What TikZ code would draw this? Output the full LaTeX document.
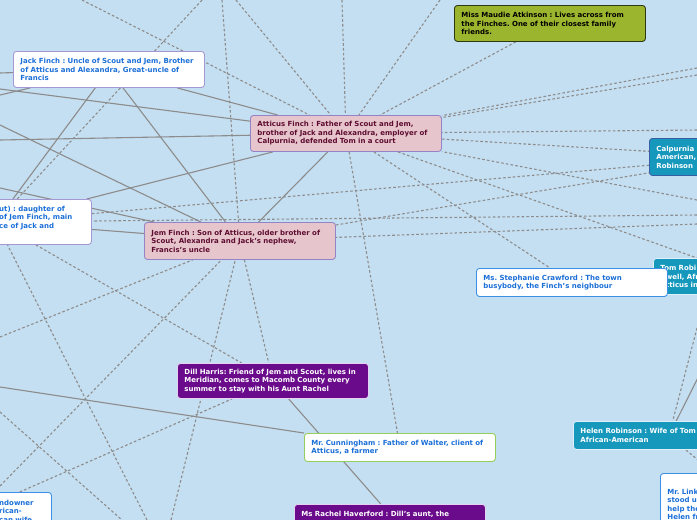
\documentclass[tikz,border=0pt]{standalone}
\usepackage{fontspec}
\setmainfont{DejaVu Sans}
\usepackage{tikz}
\usetikzlibrary{positioning}
\frenchspacing

\definecolor{mapbg}{HTML}{C4DFF1}
\definecolor{edgegray}{HTML}{8C8C8C}
\definecolor{mmblue}{HTML}{1B6FD8}
\definecolor{mmlilac}{HTML}{A497D4}
\definecolor{mmpink}{HTML}{E6C6CC}
\definecolor{mmpinkline}{HTML}{9484C6}
\definecolor{mmmaroon}{HTML}{5E0C30}
\definecolor{mmolive}{HTML}{9CB52E}
\definecolor{mmolivedark}{HTML}{2E3812}
\definecolor{mmteal}{HTML}{1698BD}
\definecolor{mmtealdark}{HTML}{3A5EA6}
\definecolor{mmtealline}{HTML}{DDEFF8}
\definecolor{mmskyline}{HTML}{3D8FE6}
\definecolor{mmviolet}{HTML}{6A0B8B}
\definecolor{mmvioletline}{HTML}{E5D2F2}
\definecolor{mmlime}{HTML}{94CF5B}

\pgfdeclarelayer{bg}
\pgfdeclarelayer{edges}
\pgfsetlayers{bg,edges,main}

\begin{document}
\begin{tikzpicture}[x=1pt, y=-1pt,
  every node/.style={font=\fontsize{7}{8.5}\selectfont\bfseries},
  topic/.style={rounded corners=3pt, line width=0.9pt, anchor=north west, align=left,
    inner xsep=7pt, inner ysep=3pt, text width=177pt},
  lilacbox/.style={topic, fill=white, draw=mmlilac, text=mmblue},
  pinkbox/.style={topic, fill=mmpink, draw=mmpinkline, text=mmmaroon},
  olivebox/.style={topic, fill=mmolive, draw=mmolivedark, text=black},
  tealbox/.style={topic, fill=mmteal, draw=mmtealline, text=white},
  skybox/.style={topic, fill=white, draw=mmskyline, text=mmblue},
  limebox/.style={topic, fill=white, draw=mmlime, text=mmblue},
  violetbox/.style={topic, fill=mmviolet, draw=mmvioletline, text=white},
  fragment/.style={anchor=west, align=left, inner sep=0pt, text=mmblue},
  solidedge/.style={draw=edgegray, line width=1.1pt},
  dashedge/.style={draw=edgegray, line width=1.1pt, dash pattern=on 2.6pt off 2.2pt}]
\useasboundingbox (0,0) rectangle (697,520);
\begin{pgfonlayer}{bg}
  \fill[mapbg] (0,0) rectangle (697,520);
\end{pgfonlayer}

% Finch family
\node[lilacbox, minimum height=36pt] (jack) at (13,51)
  {Jack Finch : Uncle of Scout and Jem, Brother\\of Atticus and Alexandra, Great-uncle of\\Francis};
\node[pinkbox, minimum height=36pt] (atticus) at (250,115)
  {Atticus Finch : Father of Scout and Jem,\\brother of Jack and Alexandra, employer of\\Calpurnia, defended Tom in a court};
\node[pinkbox, minimum height=37pt] (jem) at (144,222)
  {Jem Finch : Son of Atticus, older brother of\\Scout, Alexandra and Jack's nephew,\\Francis's uncle};
\node[lilacbox, minimum height=45pt] (scout) at (-100,199) {};
\node[fragment] (scouttext) at (-1,218) {ut) : daughter of\\of Jem Finch, main\\ce of Jack and};

% neighbours
\node[olivebox, minimum height=36pt] (maudie) at (454,5)
  {Miss Maudie Atkinson : Lives across from\\the Finches. One of their closest family\\friends.};
\node[tealbox, draw=mmtealdark, minimum height=37pt] (calpurnia) at (649,138)
  {Calpurnia\\American,\\Robinson};
\node[tealbox, minimum height=36pt] (tom) at (653,258)
  {Tom Robi\\\hspace*{5.5pt}well, Afr\\\hspace*{5.5pt}tticus in};
\node[skybox, minimum height=28pt] (stephanie) at (476,268)
  {Ms. Stephanie Crawford : The town\\busybody, the Finch's neighbour};
\node[violetbox, minimum height=35pt] (dill) at (177,363)
  {Dill Harris: Friend of Jem and Scout, lives in\\Meridian, comes to Macomb County every\\summer to stay with his Aunt Rachel};
\node[limebox, minimum height=28pt] (cunningham) at (304,433)
  {Mr. Cunningham : Father of Walter, client of\\Atticus, a farmer};
\node[tealbox, minimum height=28pt] (helen) at (573,421)
  {Helen Robinson : Wife of Tom\\African-American};
\node[skybox, inner ysep=15.5pt] (link) at (660,473)
  {Mr. Link\\stood u\\help the\\Helen fr\\giving h};
\node[violetbox, minimum height=20pt] (rachel) at (294,504)
  {Ms Rachel Haverford : Dill's aunt, the};
\node[skybox, minimum height=55pt] (dolphus) at (-140,492) {};
\node[fragment] (dolphustext) at (-1,511) {ndowner\\rican-\\can wife};

% free ends of links leaving the view
\foreach \n/\x/\y in {w1/0/73, w2/0/95, w3/0/89, w4/0/140, w5/0/125, w6/0/188,
    w7/0/387, w8/0/337, w9/0/412, w10/0/486,
    n1/82/0, n2/202/0, n3/222/0, n4/236/0, n5/342/0, n6/440/0,
    e1/697/68, e2/697/75, e3/697/130, e4/697/200, e5/697/215, e6/697/224, e7/697/328,
    s1/147/520, s2/171/520, s3/122/520}
  \coordinate (\n) at (\x,\y);

\begin{pgfonlayer}{edges}
% solid links
\foreach \a/\b in {jack/atticus, jack/jem, jack/scout, atticus/jem, atticus/scout,
    scout/jem, dill/rachel, tom/helen, w1/jack, w2/jack, w3/atticus, w4/atticus,
    w5/jem, w6/jem, w7/cunningham}
  \draw[solidedge] (\a) -- (\b);
% dashed links
\foreach \a/\b in {maudie/atticus, atticus/calpurnia, atticus/tom, atticus/stephanie,
    atticus/cunningham, scout/calpurnia, jem/calpurnia, jem/dill, scout/dill,
    dolphus/dill, helen/link, n1/atticus, n2/scout, n3/jem, n4/atticus, n5/atticus,
    n6/atticus, e1/atticus, e2/atticus, e3/atticus, e4/atticus, e5/scout, e6/jem,
    e7/helen, w8/jem, w9/s3, w10/jem, s1/scout, s2/jem}
  \draw[dashedge] (\a) -- (\b);
\end{pgfonlayer}
\end{tikzpicture}
\end{document}
